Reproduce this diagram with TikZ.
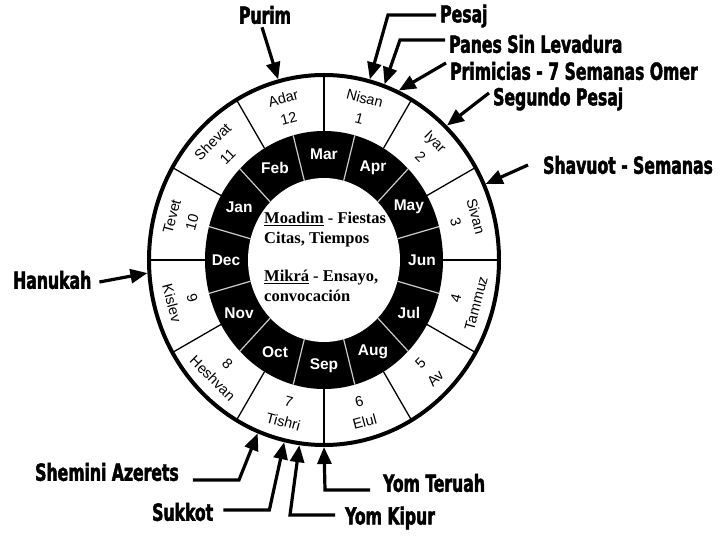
\documentclass[tikz,border=0pt]{standalone}
\usepackage{fontspec}
\setmainfont{Liberation Serif}
\newfontfamily\festfont[FakeStretch=0.74,FakeBold=2]{DejaVu Sans Condensed}
\newfontfamily\monthfont{Liberation Sans}
\usetikzlibrary{arrows.meta}

\begin{document}
\begin{tikzpicture}[x=1pt, y=1pt,
    fest/.style={font=\festfont\bfseries\fontsize{23.5}{25}\selectfont, inner sep=0pt, anchor=west},
    festarrow/.style={line width=3.2pt, -{Triangle[length=17pt,width=14pt]}},
    hebmonth/.style={font=\monthfont\fontsize{14.5}{21}\selectfont, align=center, inner sep=0pt},
    gregmonth/.style={font=\monthfont\bfseries\fontsize{15.5}{17}\selectfont, text=white, inner sep=0pt},
    divider/.style={line width=1.3pt},
    blackdivider/.style={white!80!black, line width=1.2pt}]

  \useasboundingbox (-324,-280) rectangle (396,260);

  % Radii of the rings (x and y)
  \def\rox{175}\def\roy{185}
  \def\rbx{119}\def\rby{129}
  \def\rix{76}\def\riy{82}

  % Black ring of the months
  \fill[black] (0,0) ellipse [x radius=\rbx, y radius=\rby];
  \fill[white] (0,0) ellipse [x radius=\rix, y radius=\riy];
  \foreach \a in {15,45,...,345}
    \draw[blackdivider] (\a:{\rix} and {\riy}) -- (\a:{\rbx} and {\rby});

  % Outer ring of the hebrew months
  \foreach \a in {0,30,...,330}
    \draw[divider] (\a:{\rbx} and {\rby}) -- (\a:{\rox} and {\roy});
  \draw[line width=4pt] (0,0) ellipse [x radius=\rox, y radius=\roy];

  % Hebrew months (upper half)
  \foreach \a/\name/\num in {75/Nisan/1, 45/Iyar/2, 15/Sivan/3,
                              105/Adar/12, 135/Shevat/11, 165/Tevet/10}
    \node[hebmonth, rotate=\a-90] (heb-\num) at (\a:147 and 157) {\name\\\num};

  % Hebrew months (lower half)
  \foreach \a/\name/\num in {-15/Tammuz/4, -45/Av/5, -75/Elul/6,
                              -105/Tishri/7, -135/Heshvan/8, -165/Kislev/9}
    \node[hebmonth, rotate=\a+90] (heb-\num) at (\a:147 and 157) {\num\\\name};

  % Gregorian months
  \foreach \a/\name in {90/Mar, 60/Apr, 30/May, 0/Jun, -30/Jul, -60/Aug,
                        -90/Sep, -120/Oct, -150/Nov, 180/Dec, 150/Jan, 120/Feb}
    \node[gregmonth] (greg-\name) at (\a:98 and 106) {\name};

  % Center text
  \node[font=\bfseries\fontsize{16.5}{19.5}\selectfont, align=left, inner sep=0pt,
        anchor=north west] (moadim) at (-60,48)
    {\underline{Moadim} - Fiestas\\Citas, Tiempos\\[19pt]\underline{Mikrá} - Ensayo,\\convocación};

  % Points on the outer circle
  \foreach \a/\n in {105/purim, 75/pesaj, 70/panes, 65/primicias, 46/segundo,
                     24/shavuot, 184/hanukah, -112/shemini, -103/sukkot,
                     -98/kipur, -90/teruah}
    \coordinate (t-\n) at (\a:177 and 187);

  % Feasts
  \node[fest, anchor=center] (purim) at (-59,245) {Purim};
  \node[fest] (pesaj) at (116,244) {Pesaj};
  \node[fest] (panes) at (125,216) {Panes Sin Levadura};
  \node[fest] (primicias) at (126,189) {Primicias - 7 Semanas Omer};
  \node[fest] (segundo) at (169,161) {Segundo Pesaj};
  \node[fest] (shavuot) at (219,95) {Shavuot - Semanas};
  \node[fest] (hanukah) at (-311,-20) {Hanukah};
  \node[fest] (shemini) at (-289,-212) {Shemini Azerets};
  \node[fest] (sukkot) at (-172,-252) {Sukkot};
  \node[fest] (kipur) at (21,-258) {Yom Kipur};
  \node[fest] (teruah) at (59,-223) {Yom Teruah};

  \draw[festarrow] ([xshift=-3pt,yshift=-3pt]purim.south) -- (t-purim);
  \draw[festarrow] ([xshift=-4pt,yshift=1pt]pesaj.west) -- ++(-48,0) -- (t-pesaj);
  \draw[festarrow] ([xshift=-4pt,yshift=4pt]panes.west) -- ++(-45,0) -- (t-panes);
  \draw[festarrow] ([xshift=-4pt,yshift=8pt]primicias.west) -- (t-primicias);
  \draw[festarrow] ([xshift=-4pt,yshift=6pt]segundo.west) -- (t-segundo);
  \draw[festarrow] ([xshift=-15pt]shavuot.west) -- (t-shavuot);
  \draw[festarrow] ([xshift=8pt,yshift=-2pt]hanukah.east) -- (t-hanukah);
  \draw[festarrow] ([xshift=14pt,yshift=-8pt]shemini.east) -- ++(46,0) -- (t-shemini);
  \draw[festarrow] ([xshift=10pt,yshift=2pt]sukkot.east) -- ++(46,0) -- (t-sukkot);
  \draw[festarrow] ([xshift=-10pt,yshift=3pt]kipur.west) -- ++(-45,0) -- (t-kipur);
  \draw[festarrow] ([xshift=-13pt,yshift=-7pt]teruah.west) -- ++(-45,0) -- (t-teruah);

\end{tikzpicture}
\end{document}
